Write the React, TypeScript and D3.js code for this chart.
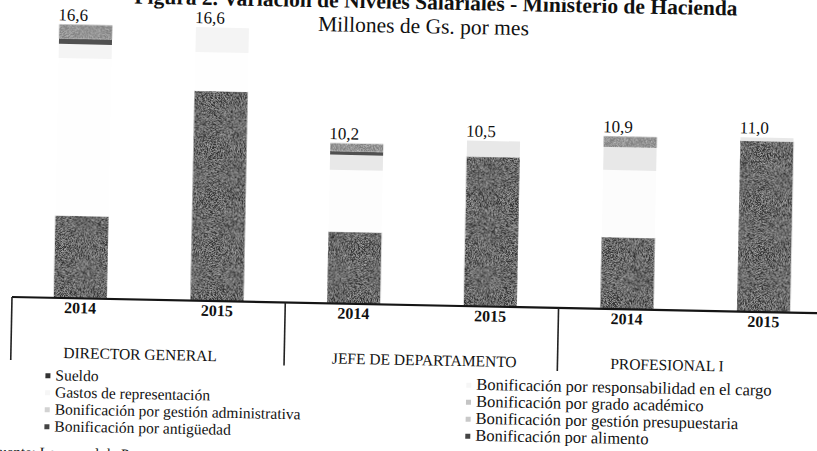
import React from "react";
import * as d3 from "d3";

// ---------- data ----------
const groups = ["DIRECTOR GENERAL", "JEFE DE DEPARTAMENTO", "PROFESIONAL I"];
const years = ["2014", "2015"];
const totalLabels = ["16,6", "16,6", "10,2", "10,5", "10,9", "11,0"];

const sueldo = [5.8, 13.0, 5.2, 9.6, 5.2, 10.8];
const gastosRepresentacion = [8.9, 2.2, 0, 0, 0, 0];
const bonifGestionAdministrativa = [0.8, 1.4, 0, 0, 0, 0];
const bonifAntiguedad = [0.3, 0, 0.2, 0, 0, 0];
const bonifResponsabilidad = [0, 0, 3.5, 0, 0, 0];
const bonifGradoAcademico = [0, 0, 0, 0, 3.8, 0];
const bonifGestionPresupuestaria = [0, 0, 0.85, 0.9, 1.3, 0.2];
const bonifAlimento = [0.8, 0, 0.45, 0, 0.6, 0];

const seriesDefs = [
  { key: "sueldo", name: "Sueldo", values: sueldo, fill: "#333333", mark: "#333", grain: true },
  { key: "gastos", name: "Gastos de representación", values: gastosRepresentacion, fill: "#fefefe", mark: "#f6f6f6" },
  { key: "resp", name: "Bonificación por responsabilidad en el cargo", values: bonifResponsabilidad, fill: "#fdfdfd", mark: "#f6f6f6" },
  { key: "grado", name: "Bonificación por grado académico", values: bonifGradoAcademico, fill: "#fcfcfc", mark: "#c4c4c4" },
  { key: "gadm", name: "Bonificación por gestión administrativa", values: bonifGestionAdministrativa, fill: "#f4f4f4", mark: "#d2d2d2" },
  { key: "gpre", name: "Bonificación por gestión presupuestaria", values: bonifGestionPresupuestaria, fill: "#e8e8e8", mark: "#c8c8c8" },
  { key: "anti", name: "Bonificación por antigüedad", values: bonifAntiguedad, fill: "#505050", mark: "#444" },
  { key: "alim", name: "Bonificación por alimento", values: bonifAlimento, fill: "#808080", mark: "#444", grain: true },
];

const legendLeft = ["sueldo", "gastos", "gadm", "anti"];
const legendRight = ["resp", "grado", "gpre", "alim"];

const title = "Figura 2. Variación de Niveles Salariales - Ministerio de Hacienda";
const subtitle = "Millones de Gs. por mes";
const source = "Fuente: Ley anual de Presupuesto General de la Nación";

// ---------- layout ----------
const W = 817;
const H = 451;
const FONT = "'Liberation Serif', 'DejaVu Serif', serif";
const AXIS_Y = 297;
const TILT = 1.15;

export default function App() {
  const ids = groups.flatMap((g, gi) => years.map((y) => `${gi}-${y}`));
  const x = d3.scaleBand<string>().domain(ids).range([12, 832]).paddingInner(0.612).paddingOuter(0.306);
  const step = x.step();
  const y = d3.scaleLinear().domain([0, 18]).range([317.3, -1.3]);

  const stackData = ids.map((id, i) => {
    const row: Record<string, any> = { id };
    seriesDefs.forEach((s) => (row[s.key] = s.values[i]));
    return row;
  });
  const stacked = d3.stack<any>().keys(seriesDefs.map((s) => s.key))(stackData);
  const totals = ids.map((_, i) => d3.sum(seriesDefs, (s) => s.values[i]));

  const byKey = Object.fromEntries(seriesDefs.map((s) => [s.key, s]));
  const groupLabelDx = [-7.5, 3.5, -27];

  return (
    <svg width={W} height={H} style={{ position: "absolute", left: 0, top: 0, display: "block", background: "#fff" }} fontFamily={FONT}>
      <defs>
        <clipPath id="plot">
          <rect x={-50} y={-50} width={1000} height={AXIS_Y + 50} />
        </clipPath>
        <filter id="grain" x="0" y="0" width="100%" height="100%">
          <feTurbulence type="fractalNoise" baseFrequency="1.3" numOctaves="2" seed="4" result="noise" />
          <feColorMatrix in="noise" type="matrix" values="0 0 0 0 0.75  0 0 0 0 0.75  0 0 0 0 0.75  1.3 0 0 0 -0.5" result="speck" />
          <feComposite in="speck" in2="SourceGraphic" operator="in" result="s2" />
          <feMerge>
            <feMergeNode in="SourceGraphic" />
            <feMergeNode in="s2" />
          </feMerge>
        </filter>
      </defs>
      <rect x={0} y={0} width={W} height={H} fill="#ffffff" />
      <g transform={`rotate(${TILT}, 12, ${AXIS_Y})`}>
        <text x={430} y={1} textAnchor="middle" fontWeight="bold" fontSize={21.5} fill="#111">{title}</text>
        <text x={418} y={25} textAnchor="middle" fontSize={21.5} fill="#111">{subtitle}</text>

        <g clipPath="url(#plot)">
          {stacked.map((layer) => {
            const s = byKey[layer.key];
            return (
              <g key={layer.key}>
                {layer.map((d, i) =>
                  d[1] - d[0] > 0 ? (
                    <rect
                      key={i}
                      x={x(ids[i])}
                      y={y(d[1])}
                      width={x.bandwidth()}
                      height={y(d[0]) - y(d[1])}
                      fill={s.fill}
                      filter={s.grain ? "url(#grain)" : undefined}
                    />
                  ) : null
                )}
              </g>
            );
          })}
        </g>

        {ids.map((id, i) => (
          <text key={id} x={(x(id) as number) - 1} y={y(totals[i]) - 4} fontSize={17} fill="#111">
            {totalLabels[i]}
          </text>
        ))}

        <line x1={12} x2={860} y1={AXIS_Y} y2={AXIS_Y} stroke="#151515" strokeWidth={2.2} />
        {[0, 1, 2].map((g) => (
          <line key={g} x1={12 + 2 * g * step} x2={12 + 2 * g * step} y1={AXIS_Y} y2={360} stroke="#222" strokeWidth={1.6} />
        ))}

        {ids.map((id, i) => (
          <text key={id} x={(x(id) as number) + x.bandwidth() / 2} y={312} textAnchor="middle" fontWeight="bold" fontSize={16} fill="#111">
            {years[i % 2]}
          </text>
        ))}
        {groups.map((g, gi) => (
          <text key={g} x={12 + (2 * gi + 1) * step + groupLabelDx[gi]} y={357} textAnchor="middle" fontSize={15.5} fill="#111">
            {g}
          </text>
        ))}

        {legendLeft.map((k, i) => (
          <g key={k}>
            <rect x={47} y={375 + i * 17 - 2.5} width={5} height={5} fill={byKey[k].mark} />
            <text x={57} y={375 + i * 17 + 4.5} fontSize={15.5} fill="#111">{byKey[k].name}</text>
          </g>
        ))}
        {legendRight.map((k, i) => (
          <g key={k}>
            <rect x={468} y={376 + i * 17 - 2.5} width={5} height={5} fill={byKey[k].mark} />
            <text x={478} y={376 + i * 17 + 4.5} fontSize={16.5} fill="#111">{byKey[k].name}</text>
          </g>
        ))}

        <text x={-6} y={457} fontSize={15} fill="#111">{source}</text>
      </g>
    </svg>
  );
}
